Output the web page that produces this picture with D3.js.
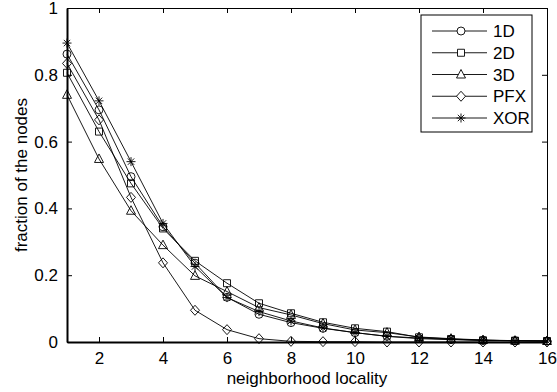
<!DOCTYPE html>
<html>
<head>
<meta charset="utf-8">
<script src="https://cdn.jsdelivr.net/npm/d3@7"></script>
<style>
  body { margin: 0; background: #fff; }
  svg text { font-family: "Liberation Sans", Arial, sans-serif; fill: #000; }
</style>
</head>
<body>
<div id="chart"></div>
<script>
// --- data ---
const locality = [1, 2, 3, 4, 5, 6, 7, 8, 9, 10, 11, 12, 13, 14, 15, 16];
const seriesNames = ['1D', '2D', '3D', 'PFX', 'XOR'];
const markers = ['circle', 'square', 'triangle', 'diamond', 'star'];
const frac1D  = [0.862, 0.695, 0.495, 0.345, 0.236, 0.134, 0.083, 0.058, 0.041, 0.028, 0.017, 0.010, 0.007, 0.005, 0.004, 0.003];
const frac2D  = [0.806, 0.630, 0.475, 0.340, 0.243, 0.176, 0.116, 0.086, 0.059, 0.041, 0.031, 0.014, 0.009, 0.005, 0.004, 0.003];
const frac3D  = [0.740, 0.548, 0.393, 0.290, 0.198, 0.151, 0.103, 0.081, 0.055, 0.036, 0.028, 0.015, 0.010, 0.006, 0.004, 0.003];
const fracPFX = [0.834, 0.665, 0.433, 0.237, 0.095, 0.037, 0.010, 0.002, 0.001, 0.001, 0, 0, 0, 0, 0, 0];
const fracXOR = [0.895, 0.722, 0.540, 0.355, 0.226, 0.133, 0.091, 0.063, 0.042, 0.028, 0.017, 0.012, 0.008, 0.005, 0.004, 0.003];
const xTicks = [2, 4, 6, 8, 10, 12, 14, 16];
const yTicks = [0, 0.2, 0.4, 0.6, 0.8, 1];

const seriesValues = [frac1D, frac2D, frac3D, fracPFX, fracXOR];

// --- sizing ---
const W = 557, H = 392;
const margin = { top: 8, right: 10, bottom: 50, left: 67 };
const width = 547 - margin.left;
const height = 342 - margin.top;

const svg = d3.select('#chart').append('svg')
  .attr('width', W)
  .attr('height', H);

const plot = svg.append('g')
  .attr('transform', `translate(${margin.left}, ${margin.top})`);

const x = d3.scaleLinear().domain([1, 16]).range([0, width]);
const y = d3.scaleLinear().domain([0, 1]).range([height, 0]);

// marker shapes (MATLAB style)
function markerPath(type) {
  const p = d3.path();
  if (type === 'circle') {
    p.arc(0, 0, 4, 0, 2 * Math.PI);
  } else if (type === 'square') {
    p.rect(-3.5, -3.5, 7, 7);
  } else if (type === 'triangle') {
    p.moveTo(0, -5); p.lineTo(4.5, 3.5); p.lineTo(-4.5, 3.5); p.closePath();
  } else if (type === 'diamond') {
    p.moveTo(0, -5); p.lineTo(4.5, 0); p.lineTo(0, 5); p.lineTo(-4.5, 0); p.closePath();
  } else {
    p.moveTo(0, -4.5); p.lineTo(0, 4.5);
    p.moveTo(-4.5, 0); p.lineTo(4.5, 0);
    p.moveTo(-3.2, -3.2); p.lineTo(3.2, 3.2);
    p.moveTo(-3.2, 3.2); p.lineTo(3.2, -3.2);
  }
  return p.toString();
}

// --- axes ---
const xAxis = d3.axisBottom(x).tickValues(xTicks).tickSizeInner(-5).tickSizeOuter(0).tickPadding(10);
const yAxis = d3.axisLeft(y).tickValues(yTicks).tickFormat(d3.format('')).tickSizeInner(-5).tickSizeOuter(0).tickPadding(9);

const gx = plot.append('g')
  .attr('class', 'axis axis--x')
  .attr('transform', `translate(0, ${height})`)
  .call(xAxis);

const gy = plot.append('g')
  .attr('class', 'axis axis--y')
  .call(yAxis);

// mirrored ticks on top and right
plot.append('g')
  .call(d3.axisTop(x).tickValues(xTicks).tickSizeInner(-5).tickSizeOuter(0).tickFormat(''));
plot.append('g')
  .attr('transform', `translate(${width}, 0)`)
  .call(d3.axisRight(y).tickValues(yTicks).tickSizeInner(-5).tickSizeOuter(0).tickFormat(''));

plot.selectAll('.domain').attr('stroke', '#000').attr('stroke-width', 1);
plot.selectAll('.tick line').attr('stroke', '#000');
gx.select('.domain').attr('stroke-width', 2);
gy.select('.domain').attr('stroke-width', 2);
plot.selectAll('.tick text').style('font-size', '17px');

// --- lines and markers ---
const line = d3.line()
  .x((d, i) => x(locality[i]))
  .y(d => y(d));

seriesValues.forEach((vals, k) => {
  plot.append('path')
    .datum(vals)
    .attr('class', 'series-line')
    .attr('fill', 'none')
    .attr('stroke', '#000')
    .attr('stroke-width', 0.9)
    .attr('d', line);

  plot.append('g')
    .selectAll('path')
    .data(vals)
    .enter().append('path')
    .attr('transform', (d, i) => `translate(${x(locality[i])}, ${y(d)})`)
    .attr('d', markerPath(markers[k]))
    .attr('fill', 'none')
    .attr('stroke', '#000')
    .attr('stroke-width', 0.9);
});

// --- labels ---
svg.append('text')
  .attr('x', margin.left + width / 2)
  .attr('y', 384)
  .attr('text-anchor', 'middle')
  .style('font-size', '17px')
  .text('neighborhood locality');

svg.append('text')
  .attr('transform', `translate(27, ${margin.top + height / 2}) rotate(-90)`)
  .attr('text-anchor', 'middle')
  .style('font-size', '17px')
  .text('fraction of the nodes');

// --- legend ---
const legend = svg.append('g').attr('transform', 'translate(421, 15)');
legend.append('rect')
  .attr('width', 111)
  .attr('height', 117)
  .attr('fill', '#fff')
  .attr('stroke', '#000')
  .attr('stroke-width', 1);

const rowY = d3.scalePoint().domain(seriesNames).range([16, 103]);
const rows = legend.selectAll('.row')
  .data(seriesNames)
  .enter().append('g')
  .attr('class', 'row')
  .attr('transform', d => `translate(0, ${rowY(d)})`);

rows.append('line')
  .attr('x1', 11).attr('x2', 66)
  .attr('stroke', '#000')
  .attr('stroke-width', 0.9);
rows.append('path')
  .attr('transform', 'translate(40, 0)')
  .attr('d', (d, i) => markerPath(markers[i]))
  .attr('fill', '#fff')
  .attr('stroke', '#000')
  .attr('stroke-width', 0.9);
rows.append('text')
  .attr('x', 72)
  .attr('dy', '0.36em')
  .style('font-size', '17px')
  .text(d => d);
</script>
</body>
</html>
